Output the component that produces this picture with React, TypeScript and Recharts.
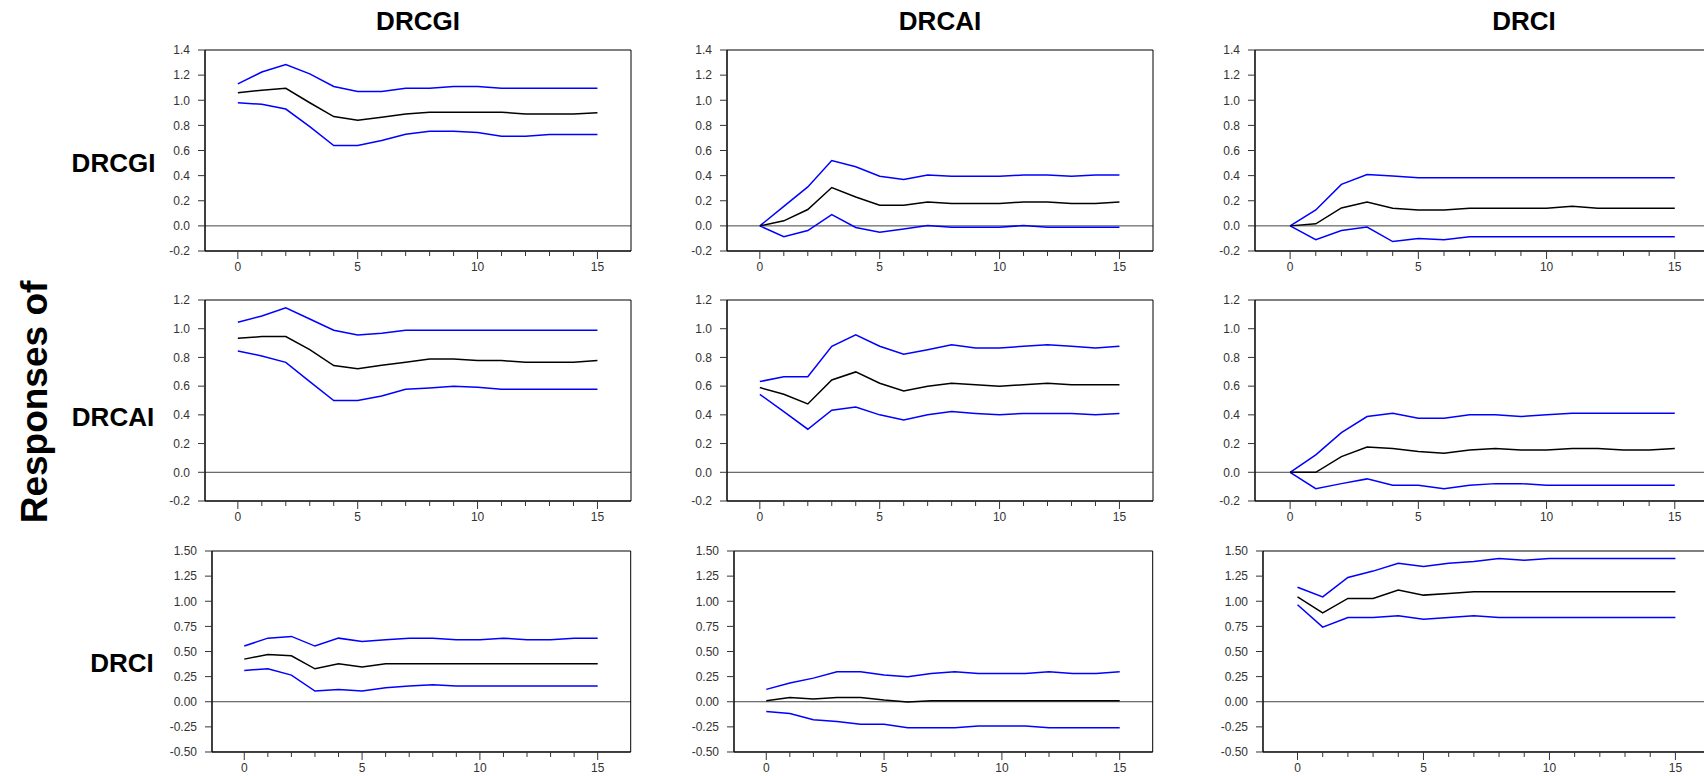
import React from 'react';
import { LineChart, Line, XAxis, YAxis, ReferenceLine } from 'recharts';

// ---------- data ----------
const periods = [0, 1, 2, 3, 4, 5, 6, 7, 8, 9, 10, 11, 12, 13, 14, 15];
const shockNames = ['DRCGI', 'DRCAI', 'DRCI'];
const responseNames = ['DRCGI', 'DRCAI', 'DRCI'];

// Response of DRCGI
const respGI_GI = [1.06, 1.08, 1.095, 0.98, 0.87, 0.84, 0.865, 0.89, 0.905, 0.905, 0.905, 0.905, 0.89, 0.89, 0.89, 0.9];
const upGI_GI = [1.13, 1.225, 1.285, 1.21, 1.11, 1.07, 1.07, 1.095, 1.095, 1.11, 1.11, 1.095, 1.095, 1.095, 1.095, 1.095];
const loGI_GI = [0.98, 0.968, 0.93, 0.79, 0.64, 0.64, 0.68, 0.73, 0.754, 0.754, 0.743, 0.714, 0.714, 0.727, 0.727, 0.727];

const respGI_AI = [0, 0.04, 0.13, 0.305, 0.23, 0.165, 0.165, 0.19, 0.178, 0.178, 0.178, 0.19, 0.19, 0.178, 0.178, 0.19];
const upGI_AI = [0, 0.155, 0.31, 0.52, 0.47, 0.395, 0.37, 0.405, 0.395, 0.395, 0.395, 0.405, 0.405, 0.395, 0.405, 0.405];
const loGI_AI = [0, -0.087, -0.037, 0.09, -0.013, -0.05, -0.024, 0.003, -0.01, -0.01, -0.01, 0.003, -0.01, -0.01, -0.01, -0.01];

const respGI_CI = [0, 0.016, 0.143, 0.19, 0.14, 0.127, 0.127, 0.14, 0.14, 0.14, 0.14, 0.156, 0.14, 0.14, 0.14, 0.14];
const upGI_CI = [0, 0.127, 0.33, 0.408, 0.397, 0.384, 0.384, 0.384, 0.384, 0.384, 0.384, 0.384, 0.384, 0.384, 0.384, 0.384];
const loGI_CI = [0, -0.11, -0.037, -0.01, -0.125, -0.1, -0.11, -0.087, -0.087, -0.087, -0.087, -0.087, -0.087, -0.087, -0.087, -0.087];

// Response of DRCAI
const respAI_GI = [0.933, 0.945, 0.945, 0.854, 0.743, 0.722, 0.745, 0.766, 0.789, 0.789, 0.778, 0.778, 0.766, 0.766, 0.766, 0.778];
const upAI_GI = [1.045, 1.089, 1.145, 1.068, 0.989, 0.957, 0.968, 0.989, 0.989, 0.989, 0.989, 0.989, 0.989, 0.989, 0.989, 0.989];
const loAI_GI = [0.845, 0.81, 0.766, 0.632, 0.5, 0.5, 0.532, 0.578, 0.587, 0.599, 0.592, 0.578, 0.578, 0.578, 0.578, 0.578];

const respAI_AI = [0.59, 0.543, 0.476, 0.643, 0.699, 0.62, 0.567, 0.599, 0.62, 0.61, 0.599, 0.61, 0.62, 0.61, 0.61, 0.61];
const upAI_AI = [0.632, 0.666, 0.666, 0.878, 0.957, 0.878, 0.822, 0.854, 0.889, 0.866, 0.866, 0.878, 0.889, 0.878, 0.866, 0.878];
const loAI_AI = [0.543, 0.423, 0.3, 0.432, 0.455, 0.4, 0.365, 0.4, 0.423, 0.41, 0.4, 0.41, 0.41, 0.41, 0.4, 0.41];

const respAI_CI = [0, 0, 0.109, 0.176, 0.165, 0.144, 0.132, 0.156, 0.165, 0.156, 0.156, 0.165, 0.165, 0.156, 0.156, 0.165];
const upAI_CI = [0, 0.121, 0.276, 0.388, 0.411, 0.376, 0.376, 0.4, 0.4, 0.388, 0.4, 0.411, 0.411, 0.411, 0.411, 0.411];
const loAI_CI = [0, -0.114, -0.079, -0.046, -0.09, -0.09, -0.114, -0.09, -0.079, -0.079, -0.09, -0.09, -0.09, -0.09, -0.09, -0.09];

// Response of DRCI
const respCI_GI = [0.424, 0.471, 0.458, 0.328, 0.378, 0.345, 0.378, 0.378, 0.378, 0.378, 0.378, 0.378, 0.378, 0.378, 0.378, 0.378];
const upCI_GI = [0.554, 0.633, 0.65, 0.554, 0.633, 0.6, 0.617, 0.633, 0.633, 0.617, 0.617, 0.633, 0.617, 0.617, 0.633, 0.633];
const loCI_GI = [0.312, 0.328, 0.265, 0.106, 0.123, 0.106, 0.139, 0.156, 0.169, 0.156, 0.156, 0.156, 0.156, 0.156, 0.156, 0.156];

const respCI_AI = [0.01, 0.043, 0.027, 0.043, 0.043, 0.017, -0.003, 0.01, 0.01, 0.01, 0.01, 0.01, 0.01, 0.01, 0.01, 0.01];
const upCI_AI = [0.123, 0.186, 0.235, 0.298, 0.298, 0.265, 0.249, 0.282, 0.298, 0.282, 0.282, 0.282, 0.298, 0.282, 0.282, 0.298];
const loCI_AI = [-0.096, -0.116, -0.179, -0.196, -0.225, -0.225, -0.259, -0.259, -0.259, -0.242, -0.242, -0.242, -0.259, -0.259, -0.259, -0.259];

const respCI_CI = [1.044, 0.885, 1.028, 1.028, 1.111, 1.061, 1.078, 1.094, 1.094, 1.094, 1.094, 1.094, 1.094, 1.094, 1.094, 1.094];
const upCI_CI = [1.14, 1.044, 1.237, 1.3, 1.379, 1.346, 1.379, 1.396, 1.426, 1.409, 1.426, 1.426, 1.426, 1.426, 1.426, 1.426];
const loCI_CI = [0.965, 0.743, 0.839, 0.839, 0.855, 0.822, 0.839, 0.855, 0.839, 0.839, 0.839, 0.839, 0.839, 0.839, 0.839, 0.839];

// y-axis tick labels per row
const yTicksRow1 = [-0.2, 0.0, 0.2, 0.4, 0.6, 0.8, 1.0, 1.2, 1.4];
const yTicksRow2 = [-0.2, 0.0, 0.2, 0.4, 0.6, 0.8, 1.0, 1.2];
const yTicksRow3 = [-0.5, -0.25, 0.0, 0.25, 0.5, 0.75, 1.0, 1.25, 1.5];
const xLabelStep = 5;

// ---------- layout ----------
const FONT = "Arial, 'Liberation Sans', Helvetica, sans-serif";
const X_DOMAIN: [number, number] = [-1.37, 16.4];
const Y_W = 60;
const M_TOP = 10;
const M_RIGHT = 2;
const X_H = 26;
const PLOT_H = 201;
const X_TICK_SIZE = 5;
const X_TICK_MARGIN = 6;
const X_MAJOR_LEN = 8;

const rowTops = [49.5, 300, 551.3];
const plotRight = [631, 1153, 1711];
const plotLeftByRow = [
  [205, 727, 1255.3],
  [205, 727, 1255.3],
  [212.3, 734.3, 1263.3],
];

const rows = [
  { ticks: yTicksRow1, digits: 1, series: [[respGI_GI, upGI_GI, loGI_GI], [respGI_AI, upGI_AI, loGI_AI], [respGI_CI, upGI_CI, loGI_CI]] },
  { ticks: yTicksRow2, digits: 1, series: [[respAI_GI, upAI_GI, loAI_GI], [respAI_AI, upAI_AI, loAI_AI], [respAI_CI, upAI_CI, loAI_CI]] },
  { ticks: yTicksRow3, digits: 2, series: [[respCI_GI, upCI_GI, loCI_GI], [respCI_AI, upCI_AI, loCI_AI], [respCI_CI, upCI_CI, loCI_CI]] },
];

const XTick = (props: any) => {
  const { x, y, payload } = props;
  const axisY = y - X_TICK_SIZE - X_TICK_MARGIN;
  const major = payload.value % xLabelStep === 0;
  return (
    <g>
      {major && <line x1={x} x2={x} y1={axisY + X_TICK_SIZE} y2={axisY + X_MAJOR_LEN} stroke="#333" strokeWidth={1} />}
      {major && (
        <text x={x} y={y} dy="0.71em" textAnchor="middle" fontSize={12} fill="#333" fontFamily={FONT}>
          {payload.value}
        </text>
      )}
    </g>
  );
};

function Panel({ r, c }: { r: number; c: number }) {
  const row = rows[r];
  const [resp, up, lo] = row.series[c];
  const data = periods.map((p, i) => ({ period: p, resp: resp[i], upper: up[i], lower: lo[i] }));
  const left = plotLeftByRow[r][c];
  const plotW = plotRight[c] - left;
  const yMin = row.ticks[0];
  const yMax = row.ticks[row.ticks.length - 1];
  const width = Y_W + plotW + M_RIGHT;
  const height = M_TOP + PLOT_H + X_H;
  return (
    <div style={{ position: 'absolute', left: left - Y_W, top: rowTops[r] - M_TOP, width, height }}>
      <LineChart width={width} height={height} data={data} margin={{ top: M_TOP, right: M_RIGHT, bottom: 0, left: 0 }}>
        <XAxis
          dataKey="period"
          type="number"
          domain={X_DOMAIN}
          allowDataOverflow
          ticks={periods}
          interval={0}
          height={X_H}
          tickSize={X_TICK_SIZE}
          tickMargin={X_TICK_MARGIN}
          tickLine={{ stroke: '#333' }}
          axisLine={{ stroke: '#000' }}
          tick={<XTick />}
        />
        <YAxis
          type="number"
          domain={[yMin, yMax]}
          allowDataOverflow
          ticks={row.ticks}
          interval={0}
          width={Y_W}
          tickSize={7}
          tickMargin={8}
          tickLine={{ stroke: '#333' }}
          axisLine={{ stroke: '#000' }}
          tick={{ fontSize: 12, fill: '#333', fontFamily: FONT }}
          tickFormatter={(v: number) => v.toFixed(row.digits)}
        />
        <ReferenceLine y={0} stroke="#444" strokeWidth={1} />
        <ReferenceLine y={yMax} stroke="#000" strokeWidth={1} ifOverflow="visible" />
        <ReferenceLine y={yMin} stroke="#000" strokeWidth={1} ifOverflow="visible" />
        <ReferenceLine x={X_DOMAIN[0]} stroke="#000" strokeWidth={1} ifOverflow="visible" />
        <ReferenceLine x={X_DOMAIN[1]} stroke="#000" strokeWidth={1} ifOverflow="visible" />
        <Line type="linear" dataKey="upper" stroke="#0000ff" strokeWidth={1.5} dot={false} isAnimationActive={false} />
        <Line type="linear" dataKey="lower" stroke="#0000ff" strokeWidth={1.5} dot={false} isAnimationActive={false} />
        <Line type="linear" dataKey="resp" stroke="#000000" strokeWidth={1.5} dot={false} isAnimationActive={false} />
      </LineChart>
    </div>
  );
}

const colTitleX = [418, 940, 1524];
const rowLabelX = [113.5, 113, 122];
const rowLabelBaseline = [172, 426, 672];

export default function App() {
  return (
    <div style={{ position: 'fixed', left: 0, top: 0, width: 1704, height: 776, overflow: 'hidden', background: '#fff', fontFamily: FONT }}>
      {[0, 1, 2].map((r) => [0, 1, 2].map((c) => <Panel key={`${r}-${c}`} r={r} c={c} />))}
      <svg width={1704} height={776} style={{ position: 'absolute', left: 0, top: 0, pointerEvents: 'none' }}>
        {shockNames.map((n, i) => (
          <text key={`t${i}`} x={colTitleX[i]} y={30} textAnchor="middle" fontSize={26} fontWeight="bold" fontFamily={FONT} fill="#000">
            {n}
          </text>
        ))}
        {responseNames.map((n, i) => (
          <text key={`r${i}`} x={rowLabelX[i]} y={rowLabelBaseline[i]} textAnchor="middle" fontSize={26} fontWeight="bold" fontFamily={FONT} fill="#000">
            {n}
          </text>
        ))}
        <text x={0} y={0} transform="translate(47,402) rotate(-90)" textAnchor="middle" fontSize={37} fontWeight="bold" fontFamily={FONT} fill="#000">
          Responses of
        </text>
      </svg>
    </div>
  );
}
